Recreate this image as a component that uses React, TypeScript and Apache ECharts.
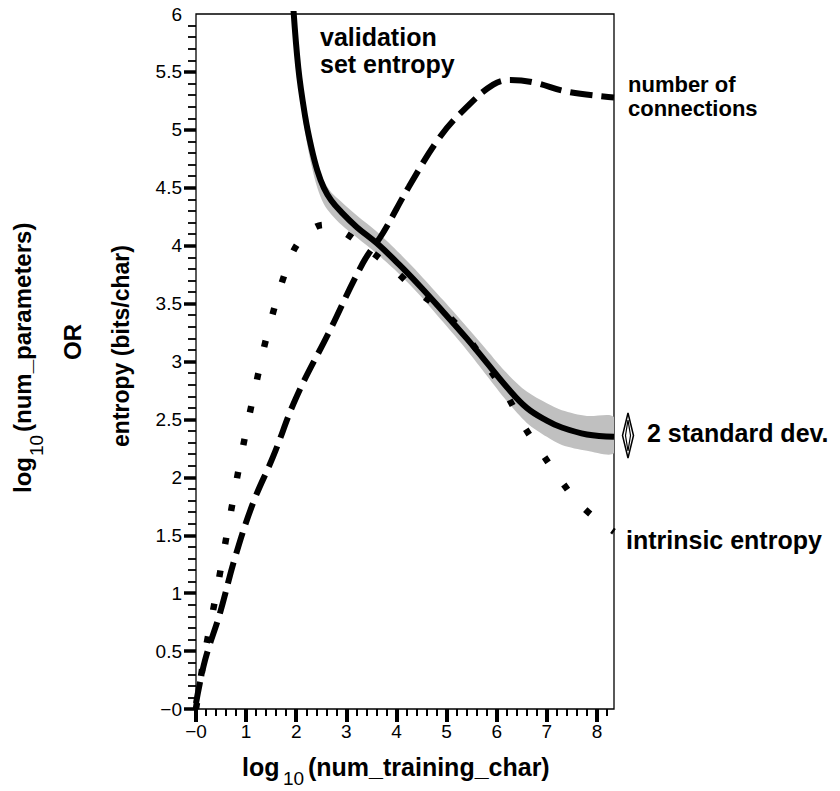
import React, { useEffect, useRef } from 'react';
import * as echarts from 'echarts';

// ---- data ----
const solidX = [1.92, 2.04, 2.18, 2.3, 2.42, 2.55, 2.7, 2.9, 3.21, 3.61, 4.07, 4.47, 4.93, 5.4, 5.8, 6.2, 6.6, 7.0, 7.3, 7.8, 8.34];
const solidY = [6.2, 5.54, 5.11, 4.85, 4.65, 4.5, 4.39, 4.29, 4.16, 4.02, 3.83, 3.65, 3.43, 3.2, 2.99, 2.78, 2.6, 2.49, 2.43, 2.37, 2.35];
const bandLo = [6.1, 5.42, 4.97, 4.7, 4.5, 4.36, 4.27, 4.18, 4.07, 3.93, 3.75, 3.57, 3.34, 3.1, 2.88, 2.66, 2.47, 2.35, 2.28, 2.23, 2.21];
const bandHi = [6.25, 5.58, 5.15, 4.89, 4.7, 4.56, 4.46, 4.38, 4.26, 4.12, 3.93, 3.75, 3.53, 3.3, 3.1, 2.9, 2.74, 2.64, 2.58, 2.53, 2.52];

const connX = [0, 0.18, 0.48, 0.78, 1.14, 1.54, 2.0, 2.65, 3.33, 3.73, 4.25, 4.87, 5.41, 5.93, 6.27, 6.73, 7.4, 8.34];
const connY = [0.05, 0.42, 0.83, 1.31, 1.78, 2.18, 2.69, 3.25, 3.85, 4.11, 4.51, 4.94, 5.2, 5.39, 5.43, 5.41, 5.33, 5.28];

const intrX = [0, 0.16, 0.41, 0.65, 0.9, 1.17, 1.48, 1.88, 2.1, 2.3, 2.55, 2.85, 3.39, 3.93, 4.43, 4.97, 5.43, 5.83, 6.2, 6.53, 6.9, 7.3, 7.72, 8.34];
const intrY = [0, 0.44, 1.01, 1.59, 2.18, 2.75, 3.33, 3.89, 4.06, 4.14, 4.18, 4.14, 3.98, 3.8, 3.6, 3.42, 3.2, 2.95, 2.71, 2.45, 2.21, 1.96, 1.74, 1.53];

const xMajorTicks = [0, 1, 2, 3, 4, 5, 6, 7, 8];
const xMinorTicks = [0.2, 0.4, 0.6, 0.8, 1.2, 1.4, 1.6, 1.8, 2.2, 2.4, 2.6, 2.8, 3.2, 3.4, 3.6, 3.8, 4.2, 4.4, 4.6, 4.8, 5.2, 5.4, 5.6, 5.8, 6.2, 6.4, 6.6, 6.8, 7.2, 7.4, 7.6, 7.8, 8.2];
const yLabels = [0, 0.5, 1, 1.5, 2, 2.5, 3, 3.5, 4, 4.5, 5, 5.5, 6];
const yMajorTicks = [0, 0.5, 1, 1.5, 2, 2.5, 3, 3.5, 4, 4.5, 5, 5.5];
const yMinorTicks: number[] = [];
for (let i = 1; i < 60; i++) if (i % 5 !== 0) yMinorTicks.push(i / 10);

const FONT = '"Liberation Sans", Arial, Helvetica, sans-serif';

const zip = (xs: number[], ys: number[]) => xs.map((x, i) => [x, ys[i]]);

export default function App() {
  const ref = useRef<HTMLDivElement>(null);
  useEffect(() => {
    const chart = echarts.init(ref.current!, null, { renderer: 'svg' });
    const fmt = (v: number) => (v === 0 ? '\u22120' : String(v));
    const bold = (t: string, x: number, y: number, size = 25) => ({
      type: 'text', x, y, style: { text: t, font: `bold ${size}px ${FONT}`, verticalAlign: 'middle', fill: '#000' },
    });
    const option: any = {
      animation: false,
      backgroundColor: '#fff',
      grid: { left: 196, right: 226, top: 14, bottom: 82, show: true, borderColor: '#000', borderWidth: 1.3, backgroundColor: 'transparent' },
      xAxis: [
        {
          type: 'value', min: 0, max: 8.34, position: 'bottom',
          axisLine: { show: false, onZero: false }, splitLine: { show: false },
          axisTick: { show: true, length: 13, lineStyle: { width: 4, color: '#000' }, customValues: xMajorTicks },
          axisLabel: { customValues: xMajorTicks, formatter: fmt, fontSize: 19, color: '#000', margin: 13, fontFamily: FONT },
        },
        {
          type: 'value', min: 0, max: 8.34, position: 'bottom',
          axisLine: { show: false, onZero: false }, splitLine: { show: false },
          axisTick: { show: true, length: 7, lineStyle: { width: 2, color: '#000' }, customValues: xMinorTicks },
          axisLabel: { show: false },
        },
      ],
      yAxis: [
        {
          type: 'value', min: 0, max: 6, position: 'left',
          axisLine: { show: false, onZero: false }, splitLine: { show: false },
          axisTick: { show: true, length: 12, lineStyle: { width: 3.5, color: '#000' }, customValues: yMajorTicks },
          axisLabel: { customValues: yLabels, formatter: fmt, fontSize: 19, color: '#000', margin: 14, fontFamily: FONT },
        },
        {
          type: 'value', min: 0, max: 6, position: 'left',
          axisLine: { show: false, onZero: false }, splitLine: { show: false },
          axisTick: { show: true, length: 8, lineStyle: { width: 1.8, color: '#000' }, customValues: yMinorTicks },
          axisLabel: { show: false },
        },
      ],
      series: [
        {
          name: '2 standard dev.', type: 'custom', clip: true, silent: true, z: 1,
          data: zip(solidX, bandHi),
          renderItem: (params: any, api: any) => {
            if (params.dataIndex !== 0) return null;
            const pts: number[][] = [];
            for (let i = 0; i < solidX.length; i++) pts.push(api.coord([solidX[i], bandHi[i]]));
            for (let i = solidX.length - 1; i >= 0; i--) pts.push(api.coord([solidX[i], bandLo[i]]));
            return { type: 'polygon', shape: { points: pts, smooth: 0.3 }, style: { fill: '#c0c0c0', stroke: 'none' } };
          },
        },
        {
          name: 'intrinsic entropy', type: 'line', smooth: 0.4, symbol: 'none',
          lineStyle: { color: '#000', width: 6.5, type: [6.5, 27], cap: 'butt' }, data: zip(intrX, intrY), z: 3,
        },
        {
          name: 'number of connections', type: 'line', smooth: 0.4, symbol: 'none',
          lineStyle: { color: '#000', width: 6, type: [22, 9], cap: 'butt' }, data: zip(connX, connY), z: 3,
        },
        {
          name: 'validation set entropy', type: 'line', smooth: 0.4, symbol: 'none',
          lineStyle: { color: '#000', width: 6 }, data: zip(solidX, solidY), z: 4,
        },
      ],
      graphic: [
        bold('validation', 320, 37),
        bold('set entropy', 320, 64),
        bold('number of', 628, 84, 22),
        bold('connections', 628, 108, 22),
        bold('2 standard dev.', 647, 433),
        bold('intrinsic entropy', 626, 540),
        {
          type: 'polygon', shape: { points: [[628, 413], [633.5, 435.5], [628, 458], [622.5, 435.5]] },
          style: { fill: '#fff', stroke: '#000', lineWidth: 1.5 },
        },
        {
          type: 'polygon', shape: { points: [[628, 420], [630.5, 435.5], [628, 451], [625.5, 435.5]] },
          style: { fill: '#fff', stroke: '#000', lineWidth: 1.2 },
        },
        // x axis title
        bold('log', 242, 767),
        { type: 'text', x: 283, y: 778, style: { text: '10', font: `19px ${FONT}`, verticalAlign: 'middle', fill: '#000' } },
        bold('(num_training_char)', 308, 767),
        // y axis title (rotated)
        {
          type: 'group', x: 22, y: 493, rotation: Math.PI / 2,
          children: [
            { type: 'text', x: 0, y: 0, style: { text: 'log', font: `bold 24px ${FONT}`, verticalAlign: 'middle', fill: '#000' } },
            { type: 'text', x: 37, y: 14, style: { text: '10', font: `19px ${FONT}`, verticalAlign: 'middle', fill: '#000' } },
            { type: 'text', x: 61, y: 0, style: { text: '(num_parameters)', font: `bold 24px ${FONT}`, verticalAlign: 'middle', fill: '#000' } },
          ],
        },
        {
          type: 'group', x: 72, y: 342, rotation: Math.PI / 2,
          children: [
            { type: 'text', x: 0, y: 0, style: { text: 'OR', font: `bold 24px ${FONT}`, align: 'center', verticalAlign: 'middle', fill: '#000' } },
          ],
        },
        {
          type: 'group', x: 121, y: 346, rotation: Math.PI / 2,
          children: [
            { type: 'text', x: 0, y: 0, style: { text: 'entropy (bits/char)', font: `bold 23px ${FONT}`, align: 'center', verticalAlign: 'middle', fill: '#000' } },
          ],
        },
      ],
    };
    chart.setOption(option);
    return () => chart.dispose();
  }, []);
  return <div ref={ref} style={{ position: 'absolute', left: 0, top: 0, width: 840, height: 791 }} />;
}
